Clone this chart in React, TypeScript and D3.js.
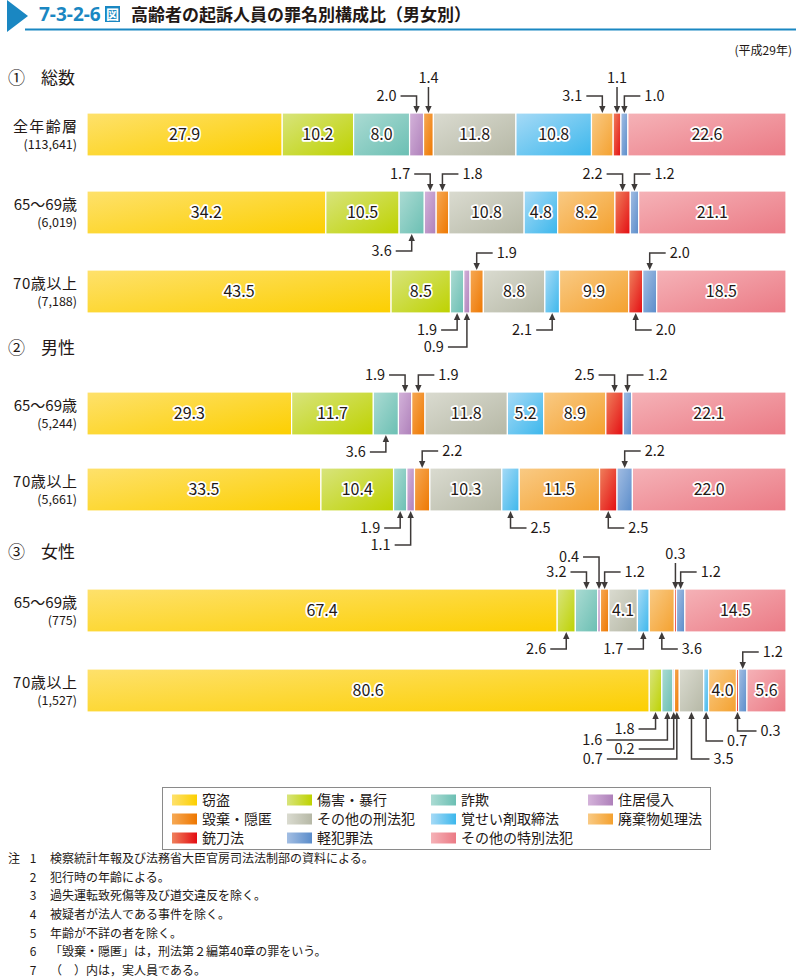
import React from 'react';
import * as d3 from 'd3';

const categories = ['窃盗', '傷害・暴行', '詐欺', '住居侵入', '毀棄・隠匿', 'その他の刑法犯', '覚せい剤取締法', '廃棄物処理法', '銃刀法', '軽犯罪法', 'その他の特別法犯'];
const colorLight = ['#fee16c', '#d8e47c', '#abdbd3', '#d4b3da', '#f6a955', '#dadbd0', '#a6daf6', '#f9ca84', '#ef815c', '#a3bee3', '#f5b2b7'];
const colorDark = ['#fccf00', '#bed200', '#6bbfb3', '#ae80ba', '#ee7700', '#b6b8a6', '#3cb7ec', '#f4a12f', '#e40c12', '#5a8cca', '#eb7a85'];

const sectionNums = ['①', '②', '③'];
const sectionNames = ['総数', '男性', '女性'];
const rowLabels = ['全年齢層', '65～69歳', '70歳以上', '65～69歳', '70歳以上', '65～69歳', '70歳以上'];
const rowCounts = ['(113,641)', '(6,019)', '(7,188)', '(5,244)', '(5,661)', '(775)', '(1,527)'];

const totalAll = [27.9, 10.2, 8.0, 2.0, 1.4, 11.8, 10.8, 3.1, 1.1, 1.0, 22.6];
const total6569 = [34.2, 10.5, 3.6, 1.7, 1.8, 10.8, 4.8, 8.2, 2.2, 1.2, 21.1];
const total70 = [43.5, 8.5, 1.9, 0.9, 1.9, 8.8, 2.1, 9.9, 2.0, 2.0, 18.5];
const male6569 = [29.3, 11.7, 3.6, 1.9, 1.9, 11.8, 5.2, 8.9, 2.5, 1.2, 22.1];
const male70 = [33.5, 10.4, 1.9, 1.1, 2.2, 10.3, 2.5, 11.5, 2.5, 2.2, 22.0];
const female6569 = [67.4, 2.6, 3.2, 0.4, 1.2, 4.1, 1.7, 3.6, 0.3, 1.2, 14.5];
const female70 = [80.6, 1.8, 1.6, 0.2, 0.7, 3.5, 0.7, 4.0, 0.3, 1.2, 5.6];

const rowsData = [totalAll, total6569, total70, male6569, male70, female6569, female70];

const notes = [
  '検察統計年報及び法務省大臣官房司法法制部の資料による。',
  '犯行時の年齢による。',
  '過失運転致死傷等及び道交違反を除く。',
  '被疑者が法人である事件を除く。',
  '年齢が不詳の者を除く。',
  '「毀棄・隠匿」は，刑法第２編第40章の罪をいう。',
  '（　）内は，実人員である。',
];

// callout layout: p = top/bottom, d = left/right/straight, lv = elbow offset, len = horizontal length
type Callout = { p: 't' | 'b'; d: 'l' | 'r' | 's'; lv?: number; len?: number };
const callouts: Record<number, Callout>[] = [
  { 3: { p: 't', d: 'l' }, 4: { p: 't', d: 's' }, 7: { p: 't', d: 'l' }, 8: { p: 't', d: 's' }, 9: { p: 't', d: 'r' } },
  { 2: { p: 'b', d: 'l' }, 3: { p: 't', d: 'l' }, 4: { p: 't', d: 'r' }, 8: { p: 't', d: 'l' }, 9: { p: 't', d: 'r' } },
  { 2: { p: 'b', d: 'l' }, 3: { p: 'b', d: 'l', lv: 34, len: 19 }, 4: { p: 't', d: 'r' }, 6: { p: 'b', d: 'l' }, 8: { p: 'b', d: 'r' }, 9: { p: 't', d: 'r' } },
  { 2: { p: 'b', d: 'l' }, 3: { p: 't', d: 'l' }, 4: { p: 't', d: 'r' }, 8: { p: 't', d: 'l' }, 9: { p: 't', d: 'r' } },
  { 2: { p: 'b', d: 'l' }, 3: { p: 'b', d: 'l', lv: 34 }, 4: { p: 't', d: 'r' }, 6: { p: 'b', d: 'r' }, 8: { p: 'b', d: 'r' }, 9: { p: 't', d: 'r' } },
  { 1: { p: 'b', d: 'l' }, 2: { p: 't', d: 'l' }, 3: { p: 't', d: 'l', lv: 32 }, 4: { p: 't', d: 'r' }, 6: { p: 'b', d: 'l' }, 7: { p: 'b', d: 'r' }, 8: { p: 't', d: 's' }, 9: { p: 't', d: 'r' } },
  { 1: { p: 'b', d: 'l', lv: 17, len: 17 }, 2: { p: 'b', d: 'l', lv: 28, len: 61 }, 3: { p: 'b', d: 'l', lv: 37, len: 35 }, 4: { p: 'b', d: 'l', lv: 47, len: 70 }, 5: { p: 'b', d: 'r', lv: 47, len: 18 }, 6: { p: 'b', d: 'r', lv: 29, len: 17 }, 8: { p: 'b', d: 'r', lv: 19, len: 19 }, 9: { p: 't', d: 'r' } },
];

const FONT = "'Noto Sans CJK JP', 'Noto Sans', sans-serif";
const INK = '#231815';
const LINE = '#3e3a39';
const BLUE = '#1a87c2';

export default function App() {
  const W = 796;
  const H = 979;
  const barX0 = 87;
  const barX1 = 786;
  const barH = 43;
  const rowTop = [113, 191, 270, 392, 468, 589, 669];
  const sectionY = [78, 348, 552];
  const legendCols = [172, 287, 431, 588];
  const legendRows = [800, 819, 838];

  const bars = rowsData.map((vals, r) => {
    const total = d3.sum(vals);
    const xs = d3.scaleLinear().domain([0, total]).range([barX0, barX1]);
    const ends = Array.from(d3.cumsum(vals));
    const y0 = rowTop[r];
    const segs = vals.map((v, i) => {
      const s = i === 0 ? 0 : ends[i - 1];
      return { v, i, xa: xs(s), xb: xs(ends[i]) };
    });
    return { segs, y0 };
  });

  return (
    <div style={{ position: 'absolute', left: 0, top: 0 }}>
      <svg width={W} height={H} viewBox={`0 0 ${W} ${H}`} style={{ display: 'block', background: '#fff' }} fontFamily={FONT}>
        <defs>
          {categories.map((c, i) => (
            <linearGradient key={i} id={`g${i}`} x1="0" y1="0" x2="1" y2="1">
              <stop offset="0" stopColor={colorLight[i]} />
              <stop offset="1" stopColor={colorDark[i]} />
            </linearGradient>
          ))}
          {categories.map((c, i) => (
            <linearGradient key={`l${i}`} id={`lg${i}`} x1="0" y1="0" x2="1" y2="0">
              <stop offset="0" stopColor={colorLight[i]} />
              <stop offset="1" stopColor={colorDark[i]} />
            </linearGradient>
          ))}
        </defs>

        {/* Title */}
        <polygon points="7,0 28,16 7,32" fill={BLUE} />
        <line x1={25} x2={W} y1={29.5} y2={29.5} stroke={BLUE} strokeWidth={2} />
        <text x={39} y={21} fontSize={19} fontWeight={700} fill={BLUE} fontFamily="'Noto Sans', 'Noto Sans CJK JP', sans-serif">7-3-2-6</text>
        <rect x={105} y={6} width={15} height={16} fill={BLUE} />
        <text x={112.5} y={19} fontSize={13} fontWeight={700} fill="#fff" textAnchor="middle">図</text>
        <text x={131} y={21} fontSize={17} fontWeight={700} fill={INK}>高齢者の起訴人員の罪名別構成比（男女別）</text>
        <text x={792} y={55} fontSize={12} fill={INK} textAnchor="end">(平成29年)</text>

        {/* Section titles */}
        {sectionNums.map((n, i) => (
          <g key={n}>
            <text x={8} y={sectionY[i]} dy="0.35em" fontSize={17} fill={INK}>{n}</text>
            <text x={41} y={sectionY[i]} dy="0.35em" fontSize={17} fill={INK}>{sectionNames[i]}</text>
          </g>
        ))}

        {/* Row labels */}
        {rowLabels.map((lab, r) => {
          const cy = rowTop[r] + barH / 2;
          const spaced = !lab.includes('～');
          return (
            <g key={r}>
              <text x={77} y={cy - 8} dy="0.35em" fontSize={15} fill={INK} textAnchor="end"
                {...(spaced ? { textLength: 64, lengthAdjust: 'spacing' } : {})}>{lab}</text>
              <text x={77} y={cy + 10} dy="0.35em" fontSize={12.5} fill={INK} textAnchor="end">{rowCounts[r]}</text>
            </g>
          );
        })}

        {/* Bars */}
        {bars.map((b, r) => (
          <g key={r}>
            {b.segs.map((s) => (
              <rect key={s.i} x={s.xa} y={b.y0} width={Math.max(0, s.xb - s.xa)} height={barH}
                fill={`url(#g${s.i})`} stroke="#fff" strokeWidth={1.2} />
            ))}
            {b.segs.filter((s) => s.v >= 4).map((s) => (
              <text key={`t${s.i}`} x={(s.xa + s.xb) / 2} y={b.y0 + barH / 2} dy="0.36em" fontSize={16}
                textAnchor="middle" fill={INK} stroke="#fff" strokeWidth={3.5} strokeLinejoin="round"
                style={{ paintOrder: 'stroke' }}>{s.v.toFixed(1)}</text>
            ))}
            {b.segs.filter((s) => callouts[r][s.i]).map((s) => {
              const c = callouts[r][s.i];
              const cx = (s.xa + s.xb) / 2;
              const sg = c.p === 't' ? -1 : 1;
              const edge = c.p === 't' ? b.y0 : b.y0 + barH;
              const lv = c.lv ?? (c.d === 's' ? 26 : 17);
              const len = c.len ?? 16;
              const ah = 7;
              const arrow = `M${cx},${edge} L${cx - 3.2},${edge + sg * ah} L${cx + 3.2},${edge + sg * ah} Z`;
              const ly = edge + sg * lv;
              let path = `M${cx},${edge + sg * (ah - 1)} L${cx},${ly}`;
              let tx = cx;
              let ty = ly;
              let anchor: 'start' | 'end' | 'middle' = 'middle';
              if (c.d === 'l') {
                path += ` L${cx - len},${ly}`;
                tx = cx - len - 4;
                anchor = 'end';
              } else if (c.d === 'r') {
                path += ` L${cx + len},${ly}`;
                tx = cx + len + 4;
                anchor = 'start';
              } else {
                ty = edge + sg * (lv + 9);
              }
              return (
                <g key={`c${s.i}`}>
                  <path d={path} fill="none" stroke={LINE} strokeWidth={1.5} />
                  <path d={arrow} fill={LINE} />
                  <text x={tx} y={ty} dy="0.35em" fontSize={14.5} fill={INK} textAnchor={anchor}>{s.v.toFixed(1)}</text>
                </g>
              );
            })}
          </g>
        ))}

        {/* Legend */}
        <rect x={162.5} y={787.5} width={548} height={62} fill="#fff" stroke="#8a8a8a" strokeWidth={1} />
        {categories.map((c, i) => {
          const lx = legendCols[i % 4];
          const ly = legendRows[Math.floor(i / 4)];
          return (
            <g key={c}>
              <rect x={lx} y={ly - 5.5} width={25} height={11} fill={`url(#lg${i})`} />
              <text x={lx + 30} y={ly} dy="0.35em" fontSize={14} fill={INK}>{c}</text>
            </g>
          );
        })}

        {/* Notes */}
        <text x={8} y={859} dy="0.35em" fontSize={12} fill={INK}>注</text>
        {notes.map((n, i) => (
          <g key={i}>
            <text x={33} y={859 + i * 18.6} dy="0.35em" fontSize={12} fill={INK} textAnchor="middle">{i + 1}</text>
            <text x={50} y={859 + i * 18.6} dy="0.35em" fontSize={12} fill={INK}>{n}</text>
          </g>
        ))}
      </svg>
    </div>
  );
}
